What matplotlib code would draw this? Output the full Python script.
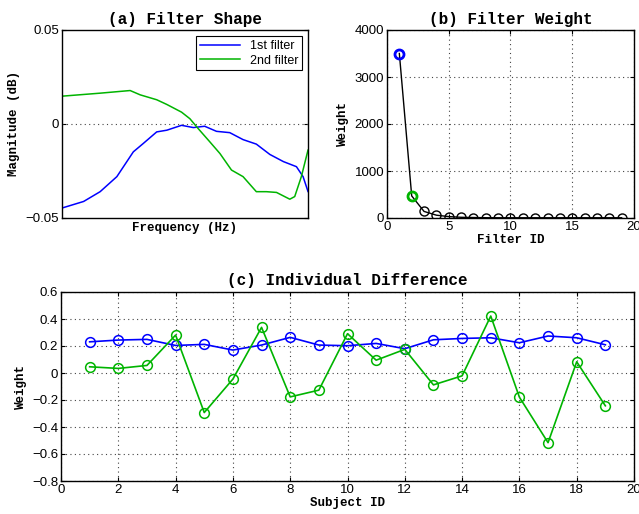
import numpy as np
import matplotlib
matplotlib.use('Agg')
import matplotlib.pyplot as plt

# panel (a) - filter shape, frequency axis normalised 0..1
freq_blue = [0.0, 0.088, 0.155, 0.223, 0.29, 0.33, 0.385, 0.426, 0.486, 0.534,
             0.58, 0.628, 0.682, 0.736, 0.79, 0.845, 0.9, 0.953, 0.98, 1.0]
mag_blue = [-0.0447, -0.0412, -0.036, -0.028, -0.0148, -0.0104, -0.0042, -0.0033,
            -0.0007, -0.0019, -0.0012, -0.0039, -0.0046, -0.0083, -0.0107,
            -0.0162, -0.020, -0.0227, -0.028, -0.0359]
freq_green = [0.0, 0.155, 0.277, 0.318, 0.385, 0.426, 0.486, 0.52, 0.554, 0.601,
              0.642, 0.689, 0.736, 0.79, 0.831, 0.872, 0.926, 0.946, 0.973, 1.0]
mag_green = [0.0148, 0.0164, 0.0178, 0.0155, 0.0129, 0.0104, 0.0063, 0.0028,
             -0.0025, -0.0095, -0.0157, -0.0245, -0.028, -0.036, -0.036, -0.0364,
             -0.040, -0.0386, -0.028, -0.0139]

# panel (b) - filter weight
filter_id = np.arange(1, 20)
weight = [3500, 470, 140, 60, 30, 15, 10, 6, 5, 5, 5, 5, 5, 5, 5, 5, 5, 5, 5]

# panel (c) - individual difference
subject_id = np.arange(1, 20)
w1 = [0.231, 0.244, 0.249, 0.204, 0.212, 0.17, 0.207, 0.264, 0.207, 0.202,
      0.219, 0.18, 0.246, 0.256, 0.261, 0.224, 0.274, 0.261, 0.209]
w2 = [0.046, 0.034, 0.056, 0.281, -0.293, -0.045, 0.338, -0.177, -0.127, 0.291,
      0.095, 0.175, -0.088, -0.021, 0.422, -0.179, -0.516, 0.083, -0.243]

blue = '#0000ff'
green = '#00b400'

plt.rcParams['font.family'] = ['Liberation Sans', 'DejaVu Sans']
plt.rcParams['xtick.direction'] = 'in'
plt.rcParams['ytick.direction'] = 'in'
plt.rcParams['xtick.top'] = True
plt.rcParams['ytick.right'] = True
plt.rcParams['xtick.labelsize'] = 9.5
plt.rcParams['ytick.labelsize'] = 9.5
plt.rcParams['axes.linewidth'] = 1.0

title_font = dict(family='Liberation Mono', weight='bold', size=11.5)
label_font = dict(family='Liberation Mono', weight='bold', size=9)
grid_kw = dict(color='#444444', linestyle=(0, (1, 3)), linewidth=0.8)


def fmt(v):
    if abs(v) < 1e-9:
        return '0'
    return ('\u2212' + f'{abs(v):g}') if v < 0 else f'{v:g}'


fig = plt.figure(figsize=(6.39, 5.14), dpi=100)
W, H = 639, 514
ax1 = fig.add_axes([62 / W, 1 - 218 / H, 246 / W, 188 / H])
ax2 = fig.add_axes([387 / W, 1 - 218 / H, 247 / W, 188 / H])
ax3 = fig.add_axes([61 / W, 1 - 481 / H, 573 / W, 189 / H])

# (a)
ax1.plot(freq_blue, mag_blue, color=blue, lw=1.1, label='1st filter')
ax1.plot(freq_green, mag_green, color=green, lw=1.1, label='2nd filter')
ax1.set_xlim(0, 1)
ax1.set_ylim(-0.05, 0.05)
ax1.set_yticks([-0.05, 0, 0.05])
ax1.set_yticklabels([fmt(v) for v in [-0.05, 0, 0.05]])
ax1.set_xticks([])
ax1.axhline(0, **grid_kw)
ax1.set_title('(a) Filter Shape', fontdict=title_font, pad=4)
ax1.set_xlabel('Frequency (Hz)', fontdict=label_font, labelpad=3)
ax1.set_ylabel('Magnitude (dB)', fontdict=label_font, labelpad=4)
leg = ax1.legend(loc='upper right', fontsize=9, fancybox=False, framealpha=1,
                 borderpad=0.3, handlelength=3.2, labelspacing=0.2)
leg.get_frame().set_edgecolor('black')
leg.get_frame().set_linewidth(0.8)

# (b)
ax2.plot(filter_id, weight, color='black', lw=1.0, marker='o', ms=6.5,
         mfc='none', mec='black', mew=1.0)
ax2.plot(filter_id[0], weight[0], 'o', ms=6.5, mfc='none', mec=blue, mew=2)
ax2.plot(filter_id[1], weight[1], 'o', ms=6.5, mfc='none', mec=green, mew=2)
ax2.set_xlim(0, 20)
ax2.set_ylim(0, 4000)
ax2.set_xticks([0, 5, 10, 15, 20])
ax2.set_yticks([0, 1000, 2000, 3000, 4000])
ax2.grid(True, **grid_kw)
ax2.set_title('(b) Filter Weight', fontdict=title_font, pad=4)
ax2.set_xlabel('Filter ID', fontdict=label_font, labelpad=1)
ax2.set_ylabel('Weight', fontdict=label_font, labelpad=4)

# (c)
ax3.plot(subject_id, w1, color=blue, lw=1.2, marker='o', ms=7, mfc='none', mew=1.1)
ax3.plot(subject_id, w2, color=green, lw=1.2, marker='o', ms=7, mfc='none', mew=1.1)
ax3.set_xlim(0, 20)
ax3.set_ylim(-0.8, 0.6)
ax3.set_xticks(np.arange(0, 21, 2))
yt = np.round(np.arange(-0.8, 0.61, 0.2), 1)
ax3.set_yticks(yt)
ax3.set_yticklabels([fmt(v) for v in yt])
ax3.grid(True, **grid_kw)
ax3.set_title('(c) Individual Difference', fontdict=title_font, pad=5)
ax3.set_xlabel('Subject ID', fontdict=label_font, labelpad=1)
ax3.set_ylabel('Weight', fontdict=label_font, labelpad=4)

for ax in (ax1, ax2, ax3):
    ax.tick_params(length=3, width=0.8, pad=2)
    ax.set_axisbelow(True)

fig.savefig('out.png', dpi=100)
